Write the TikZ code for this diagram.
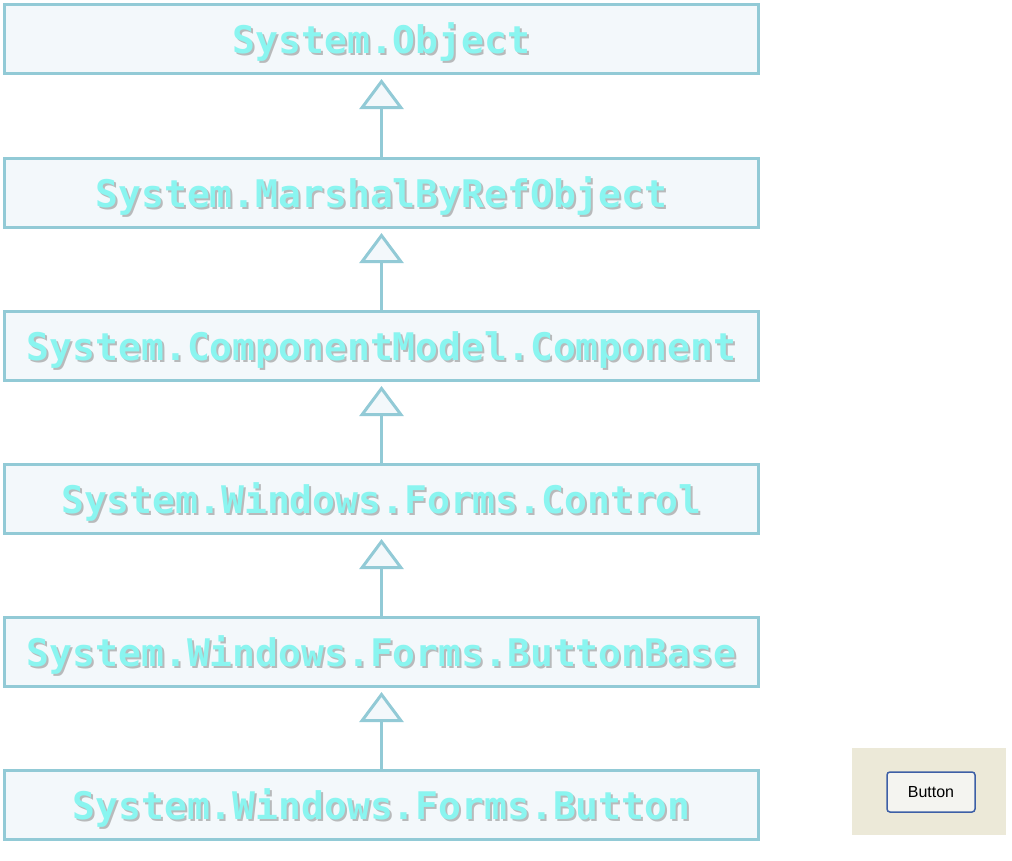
\documentclass[tikz,border=0pt]{standalone}
\usepackage{fontspec}
\newfontfamily\monob{DejaVu Sans Mono}[BoldFont={DejaVu Sans Mono Bold}]
\newfontfamily\btnfont{Liberation Sans}
\usetikzlibrary{arrows.meta}
\definecolor{bordc}{HTML}{92CAD6}
\definecolor{boxfill}{HTML}{F3F8FB}
\definecolor{txtc}{HTML}{8AF5F0}
\definecolor{shadc}{HTML}{A0A0A0}
\definecolor{panel}{HTML}{ECE9D8}
\definecolor{btnborder}{HTML}{3D5FA6}
\definecolor{btnfill}{HTML}{F4F4F0}
\tikzset{
  classbox/.style={draw=bordc, line width=3pt, fill=boxfill, minimum width=754pt, minimum height=69pt, inner sep=0pt},
  classtxt/.style={text=txtc, inner sep=0pt, text height=28pt, text depth=0pt, font=\monob\bfseries\fontsize{38}{40}\selectfont},
  shadtxt/.style={text=shadc, opacity=0.7, inner sep=0pt, text height=28pt, text depth=0pt, font=\monob\bfseries\fontsize{38}{40}\selectfont},
  inh/.style={draw=bordc, line width=3pt, -{Triangle[open, width=44pt, length=30pt, fill=boxfill, line width=3pt]}, shorten >=4pt},
}
\newcommand{\classnode}[3]{%
  \node[classbox] (#1) at (381.5,#2) {};
  \node[shadtxt] (#1s) at (383.5,#2+2) {#3};
  \node[classtxt] (#1t) at (381.5,#2) {#3};
}
\begin{document}
\begin{tikzpicture}[x=1pt,y=-1pt]
\useasboundingbox (0,0) rectangle (1012,860);
\classnode{b1}{39}{System.Object}
\classnode{b2}{193}{System.MarshalByRefObject}
\classnode{b3}{346}{System.ComponentModel.Component}
\classnode{b4}{499}{System.Windows.Forms.Control}
\classnode{b5}{652}{System.Windows.Forms.ButtonBase}
\classnode{b6}{805}{System.Windows.Forms.Button}
\draw[inh] (b2.north) -- (b1.south);
\draw[inh] (b3.north) -- (b2.south);
\draw[inh] (b4.north) -- (b3.south);
\draw[inh] (b5.north) -- (b4.south);
\draw[inh] (b6.north) -- (b5.south);
\node[fill=panel, minimum width=154pt, minimum height=87pt, inner sep=0pt] (panel) at (929,791.5) {};
\node[draw=btnborder, line width=1.5pt, rounded corners=3pt, fill=btnfill, minimum width=88pt, minimum height=40pt, inner sep=0pt, font=\btnfont\fontsize{16}{18}\selectfont] (btn) at (931,792) {Button};
\end{tikzpicture}
\end{document}
